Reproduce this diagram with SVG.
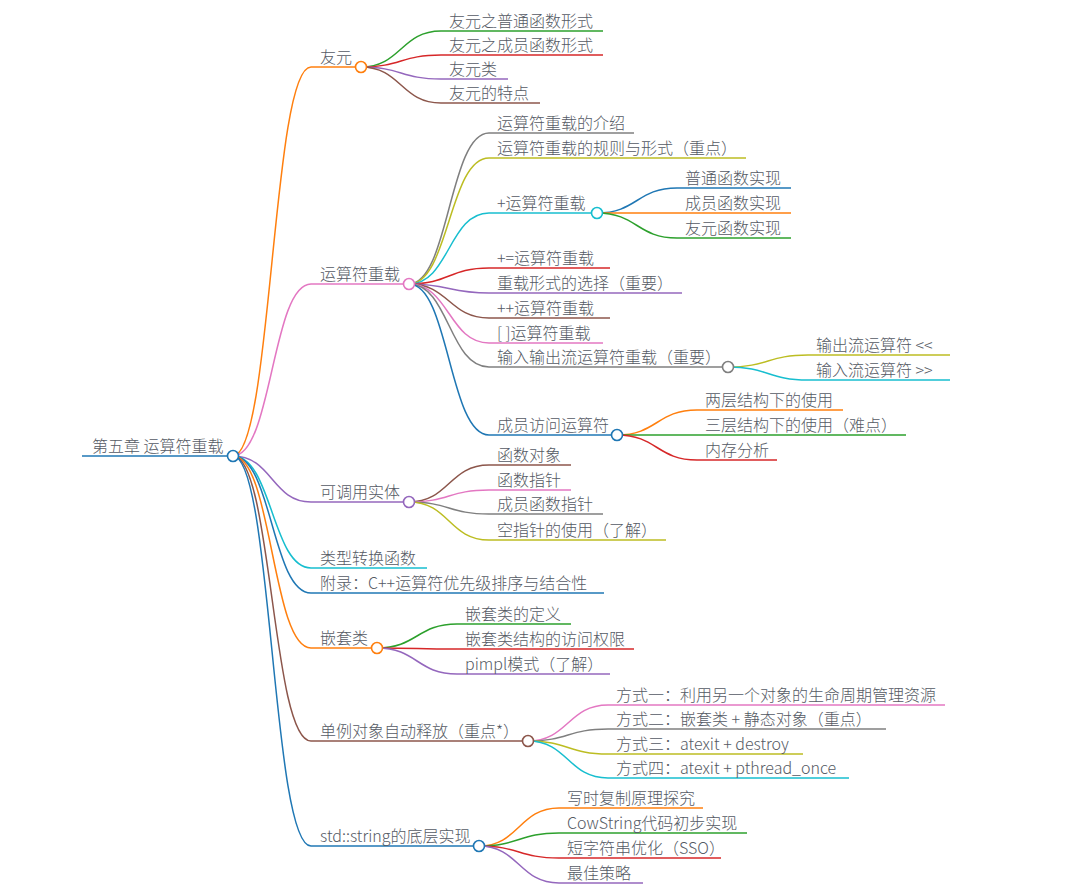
<svg xmlns="http://www.w3.org/2000/svg" width="1088" height="893" viewBox="0 0 1088 893">
<style>
text{font-family:"Noto Sans CJK SC","Noto Sans",sans-serif;font-size:16px;font-weight:300;fill:#555a64}
path,line,circle{fill:none;stroke-width:1.5}
circle{fill:#fff;stroke-width:1.6}
.c0{stroke:#1f77b4}.c1{stroke:#ff7f0e}.c2{stroke:#2ca02c}.c3{stroke:#d62728}.c4{stroke:#9467bd}
.c5{stroke:#8c564b}.c6{stroke:#e377c2}.c7{stroke:#7f7f7f}.c8{stroke:#bcbd22}.c9{stroke:#17becf}
</style>
<rect width="1088" height="893" fill="#fff"/>
<g id="connectors">
<path class="c1" d="M233,456 C272,456 272,67 311,67"/>
<path class="c6" d="M233,456 C272,456 272,284 311,284"/>
<path class="c4" d="M233,456 C272,456 272,502 311,502"/>
<path class="c9" d="M233,456 C272,456 272,568 311,568"/>
<path class="c0" d="M233,456 C272,456 272,593 311,593"/>
<path class="c1" d="M233,456 C272,456 272,648 311,648"/>
<path class="c5" d="M233,456 C272,456 272,741 311,741"/>
<path class="c0" d="M233,456 C272,456 272,846 311,846"/>
<path class="c2" d="M361,67 C401,67 401,31 441,31"/>
<path class="c3" d="M361,67 C401,67 401,55 441,55"/>
<path class="c4" d="M361,67 C401,67 401,79 441,79"/>
<path class="c5" d="M361,67 C401,67 401,103 441,103"/>
<path class="c7" d="M409,284 C449,284 449,133 489,133"/>
<path class="c8" d="M409,284 C449,284 449,158 489,158"/>
<path class="c9" d="M409,284 C449,284 449,213 489,213"/>
<path class="c3" d="M409,284 C449,284 449,268 489,268"/>
<path class="c4" d="M409,284 C449,284 449,293 489,293"/>
<path class="c5" d="M409,284 C449,284 449,318 489,318"/>
<path class="c6" d="M409,284 C449,284 449,343 489,343"/>
<path class="c7" d="M409,284 C449,284 449,367 489,367"/>
<path class="c0" d="M409,284 C449,284 449,435 489,435"/>
<path class="c0" d="M597,213 C637,213 637,188 677,188"/>
<path class="c1" d="M597,213 C637,213 637,213 677,213"/>
<path class="c2" d="M597,213 C637,213 637,238 677,238"/>
<path class="c8" d="M728,367 C768,367 768,355 808,355"/>
<path class="c9" d="M728,367 C768,367 768,380 808,380"/>
<path class="c1" d="M617,435 C657,435 657,410 697,410"/>
<path class="c2" d="M617,435 C657,435 657,435 697,435"/>
<path class="c3" d="M617,435 C657,435 657,460 697,460"/>
<path class="c5" d="M409,502 C449,502 449,465 489,465"/>
<path class="c6" d="M409,502 C449,502 449,490 489,490"/>
<path class="c7" d="M409,502 C449,502 449,514 489,514"/>
<path class="c8" d="M409,502 C449,502 449,540 489,540"/>
<path class="c2" d="M377,648 C417,648 417,624 457,624"/>
<path class="c3" d="M377,648 C417,648 417,649 457,649"/>
<path class="c4" d="M377,648 C417,648 417,674 457,674"/>
<path class="c6" d="M528,741 C568,741 568,705 608,705"/>
<path class="c7" d="M528,741 C568,741 568,729 608,729"/>
<path class="c8" d="M528,741 C568,741 568,754 608,754"/>
<path class="c9" d="M528,741 C568,741 568,778 608,778"/>
<path class="c1" d="M479,846 C519,846 519,808 559,808"/>
<path class="c2" d="M479,846 C519,846 519,833 559,833"/>
<path class="c3" d="M479,846 C519,846 519,858 559,858"/>
<path class="c4" d="M479,846 C519,846 519,883 559,883"/>
</g>
<g id="root"><line class="c0" x1="82" y1="456" x2="233" y2="456"/><text x="92" y="452">第五章 运算符重载</text><circle class="c0" cx="233" cy="456" r="5.5"/></g>

<g id="n-youyuan"><line class="c1" x1="311" y1="67" x2="361" y2="67"/><text x="320" y="63">友元</text><circle class="c1" cx="361" cy="67" r="5.5"/></g>
<g id="n-yy1"><line class="c2" x1="441" y1="31" x2="603" y2="31"/><text x="449" y="27">友元之普通函数形式</text></g>
<g id="n-yy2"><line class="c3" x1="441" y1="55" x2="603" y2="55"/><text x="449" y="51">友元之成员函数形式</text></g>
<g id="n-yy3"><line class="c4" x1="441" y1="79" x2="508" y2="79"/><text x="449" y="75">友元类</text></g>
<g id="n-yy4"><line class="c5" x1="441" y1="103" x2="540" y2="103"/><text x="449" y="99">友元的特点</text></g>

<g id="n-ysf"><line class="c6" x1="311" y1="284" x2="409" y2="284"/><text x="320" y="280">运算符重载</text><circle class="c6" cx="409" cy="284" r="5.5"/></g>
<g id="n-ysf1"><line class="c7" x1="489" y1="133" x2="634" y2="133"/><text x="497" y="129">运算符重载的介绍</text></g>
<g id="n-ysf2"><line class="c8" x1="489" y1="158" x2="746" y2="158"/><text x="497" y="154">运算符重载的规则与形式（重点）</text></g>
<g id="n-plus"><line class="c9" x1="489" y1="213" x2="597" y2="213"/><text x="497" y="209">+运算符重载</text><circle class="c9" cx="597" cy="213" r="5.5"/></g>
<g id="n-plus1"><line class="c0" x1="677" y1="188" x2="791" y2="188"/><text x="685" y="184">普通函数实现</text></g>
<g id="n-plus2"><line class="c1" x1="677" y1="213" x2="791" y2="213"/><text x="685" y="209">成员函数实现</text></g>
<g id="n-plus3"><line class="c2" x1="677" y1="238" x2="791" y2="238"/><text x="685" y="234">友元函数实现</text></g>
<g id="n-pluseq"><line class="c3" x1="489" y1="268" x2="610" y2="268"/><text x="497" y="264">+=运算符重载</text></g>
<g id="n-choose"><line class="c4" x1="489" y1="293" x2="682" y2="293"/><text x="497" y="289">重载形式的选择（重要）</text></g>
<g id="n-incr"><line class="c5" x1="489" y1="318" x2="610" y2="318"/><text x="497" y="314">++运算符重载</text></g>
<g id="n-index"><line class="c6" x1="489" y1="343" x2="603" y2="343"/><text x="497" y="339">[ ]运算符重载</text></g>
<g id="n-io"><line class="c7" x1="489" y1="367" x2="728" y2="367"/><text x="497" y="363">输入输出流运算符重载（重要）</text><circle class="c7" cx="728" cy="367" r="5.5"/></g>
<g id="n-io1"><line class="c8" x1="808" y1="355" x2="950" y2="355"/><text x="816" y="351">输出流运算符 &lt;&lt;</text></g>
<g id="n-io2"><line class="c9" x1="808" y1="380" x2="950" y2="380"/><text x="816" y="376">输入流运算符 &gt;&gt;</text></g>
<g id="n-member"><line class="c0" x1="489" y1="435" x2="617" y2="435"/><text x="497" y="431">成员访问运算符</text><circle class="c0" cx="617" cy="435" r="5.5"/></g>
<g id="n-member1"><line class="c1" x1="697" y1="410" x2="843" y2="410"/><text x="705" y="406">两层结构下的使用</text></g>
<g id="n-member2"><line class="c2" x1="697" y1="435" x2="906" y2="435"/><text x="705" y="431">三层结构下的使用（难点）</text></g>
<g id="n-member3"><line class="c3" x1="697" y1="460" x2="777" y2="460"/><text x="705" y="456">内存分析</text></g>

<g id="n-callable"><line class="c4" x1="311" y1="502" x2="409" y2="502"/><text x="320" y="498">可调用实体</text><circle class="c4" cx="409" cy="502" r="5.5"/></g>
<g id="n-call1"><line class="c5" x1="489" y1="465" x2="571" y2="465"/><text x="497" y="461">函数对象</text></g>
<g id="n-call2"><line class="c6" x1="489" y1="490" x2="571" y2="490"/><text x="497" y="486">函数指针</text></g>
<g id="n-call3"><line class="c7" x1="489" y1="514" x2="603" y2="514"/><text x="497" y="510">成员函数指针</text></g>
<g id="n-call4"><line class="c8" x1="489" y1="540" x2="666" y2="540"/><text x="497" y="536">空指针的使用（了解）</text></g>

<g id="n-convert"><line class="c9" x1="311" y1="568" x2="427" y2="568"/><text x="320" y="564">类型转换函数</text></g>
<g id="n-appendix"><line class="c0" x1="311" y1="593" x2="604" y2="593"/><text x="320" y="589">附录：C++运算符优先级排序与结合性</text></g>

<g id="n-nested"><line class="c1" x1="311" y1="648" x2="377" y2="648"/><text x="320" y="644">嵌套类</text><circle class="c1" cx="377" cy="648" r="5.5"/></g>
<g id="n-nest1"><line class="c2" x1="457" y1="624" x2="571" y2="624"/><text x="465" y="620">嵌套类的定义</text></g>
<g id="n-nest2"><line class="c3" x1="457" y1="649" x2="634" y2="649"/><text x="465" y="645">嵌套类结构的访问权限</text></g>
<g id="n-nest3"><line class="c4" x1="457" y1="674" x2="610" y2="674"/><text x="465" y="670">pimpl模式（了解）</text></g>

<g id="n-singleton"><line class="c5" x1="311" y1="741" x2="528" y2="741"/><text x="320" y="737">单例对象自动释放（重点*）</text><circle class="c5" cx="528" cy="741" r="5.5"/></g>
<g id="n-single1"><line class="c6" x1="608" y1="705" x2="945" y2="705"/><text x="616" y="701">方式一：利用另一个对象的生命周期管理资源</text></g>
<g id="n-single2"><line class="c7" x1="608" y1="729" x2="886" y2="729"/><text x="616" y="725">方式二：嵌套类 + 静态对象（重点）</text></g>
<g id="n-single3"><line class="c8" x1="608" y1="754" x2="803" y2="754"/><text x="616" y="750">方式三：atexit + destroy</text></g>
<g id="n-single4"><line class="c9" x1="608" y1="778" x2="849" y2="778"/><text x="616" y="774">方式四：atexit + pthread_once</text></g>

<g id="n-string"><line class="c0" x1="311" y1="846" x2="479" y2="846"/><text x="320" y="842">std::string的底层实现</text><circle class="c0" cx="479" cy="846" r="5.5"/></g>
<g id="n-str1"><line class="c1" x1="559" y1="808" x2="703" y2="808"/><text x="567" y="804">写时复制原理探究</text></g>
<g id="n-str2"><line class="c2" x1="559" y1="833" x2="747" y2="833"/><text x="567" y="829">CowString代码初步实现</text></g>
<g id="n-str3"><line class="c3" x1="559" y1="858" x2="721" y2="858"/><text x="567" y="854">短字符串优化（SSO）</text></g>
<g id="n-str4"><line class="c4" x1="559" y1="883" x2="643" y2="883"/><text x="567" y="879">最佳策略</text></g>
</svg>
